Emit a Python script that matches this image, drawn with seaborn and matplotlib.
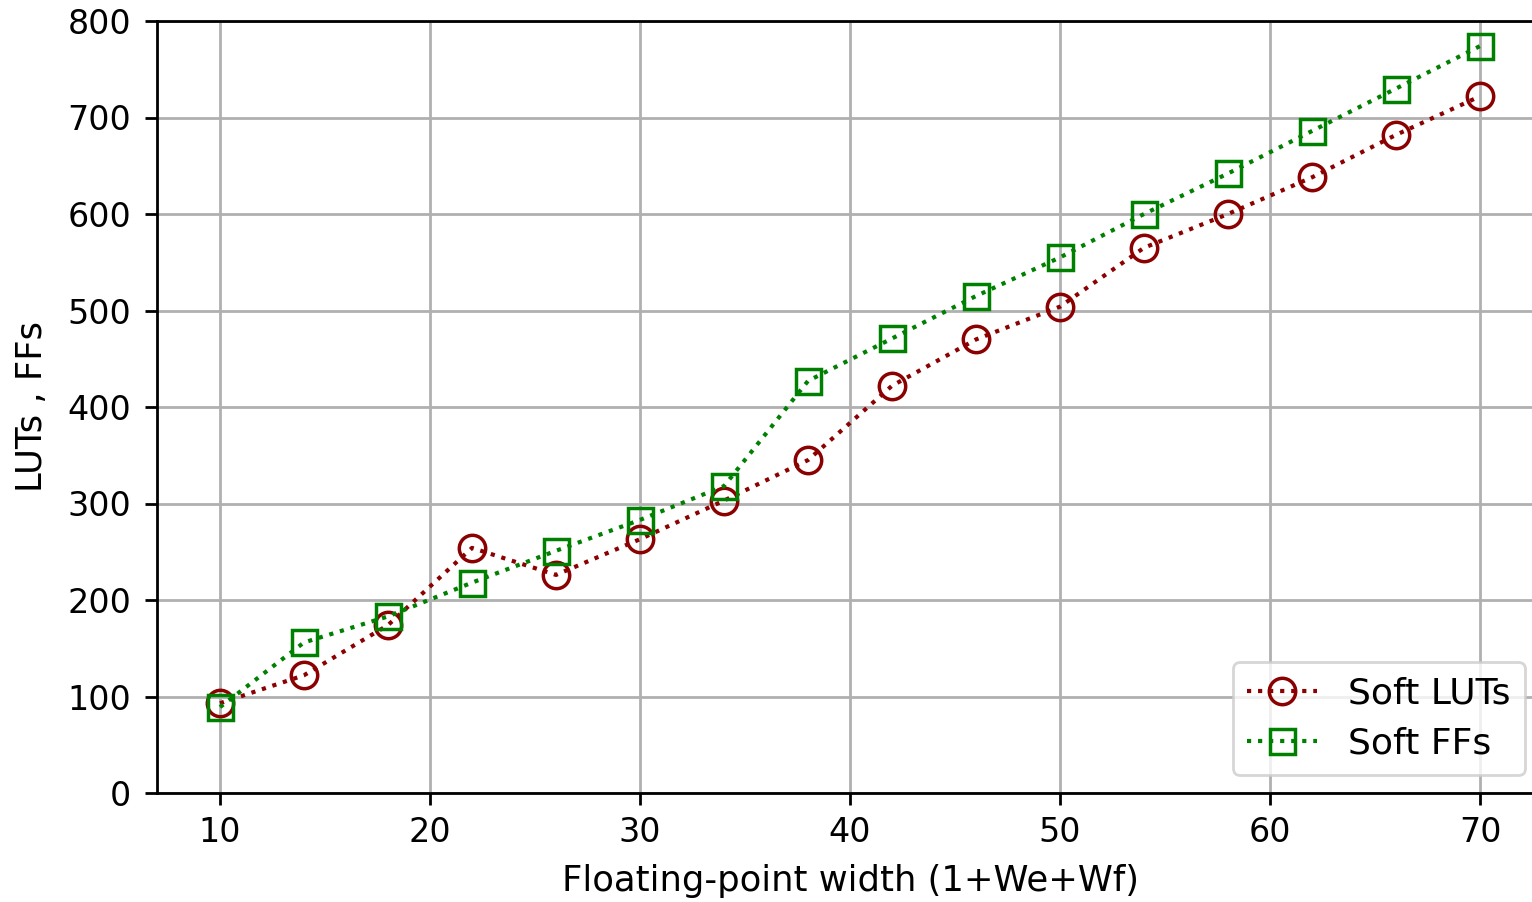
import numpy as np
import pandas as pd
import matplotlib
matplotlib.use("Agg")
import matplotlib.pyplot as plt
import seaborn as sns

# data
width = [10, 14, 18, 22, 26, 30, 34, 38, 42, 46, 50, 54, 58, 62, 66, 70]
soft_luts = [93, 122, 174, 254, 226, 263, 303, 345, 422, 470, 504, 565, 600, 638, 682, 722]
soft_ffs = [89, 156, 183, 218, 251, 283, 318, 427, 471, 515, 555, 600, 642, 686, 730, 774]

sns.set_theme(style="whitegrid")
plt.rcParams['font.family'] = ['DejaVu Sans']
plt.rcParams['text.color'] = 'black'
plt.rcParams['axes.labelcolor'] = 'black'

fig = plt.figure(figsize=(15.32, 9.02), dpi=100)
ax = fig.add_axes([157 / 1532, 1 - 793 / 902, (1543 - 157) / 1532, (793 - 21) / 902])

df = pd.DataFrame({'width': width, 'luts': soft_luts, 'ffs': soft_ffs})

sns.lineplot(data=df, x='width', y='luts', ax=ax, color='darkred', linestyle=':',
             linewidth=3, marker='o', markersize=19, mfc='none', mec='darkred',
             mew=2.5, label='Soft LUTs')
sns.lineplot(data=df, x='width', y='ffs', ax=ax, color='green', linestyle=':',
             linewidth=3, marker='s', markersize=18, mfc='none', mec='green',
             mew=2.5, label='Soft FFs')

ax.set_xlim(7, 73)
ax.set_ylim(0, 800)
ax.set_xticks([10, 20, 30, 40, 50, 60, 70])
ax.set_yticks(range(0, 801, 100))
ax.grid(True, color='#b0b0b0', linewidth=2)
for s in ax.spines.values():
    s.set_color('black')
    s.set_linewidth(2)
ax.tick_params(axis='both', labelsize=24, length=8.6, width=2, direction='out',
               colors='black', left=True, bottom=True)
ax.tick_params(axis='x', pad=8)
ax.tick_params(axis='y', pad=10)
ax.set_xlabel('Floating-point width (1+We+Wf)', fontsize=25.5, labelpad=11)
ax.set_ylabel('LUTs , FFs', fontsize=25.5, labelpad=13)

leg = ax.legend(loc='lower right', bbox_to_anchor=((1525 - 157) / 1386, (793 - 775) / 772),
                borderaxespad=0, fontsize=26, frameon=True, handlelength=1.95,
                borderpad=0.4, labelspacing=0.45, handletextpad=0.85)
leg.get_frame().set_edgecolor('#cccccc')
leg.get_frame().set_linewidth(2)

fig.savefig('out.png', dpi=100)
